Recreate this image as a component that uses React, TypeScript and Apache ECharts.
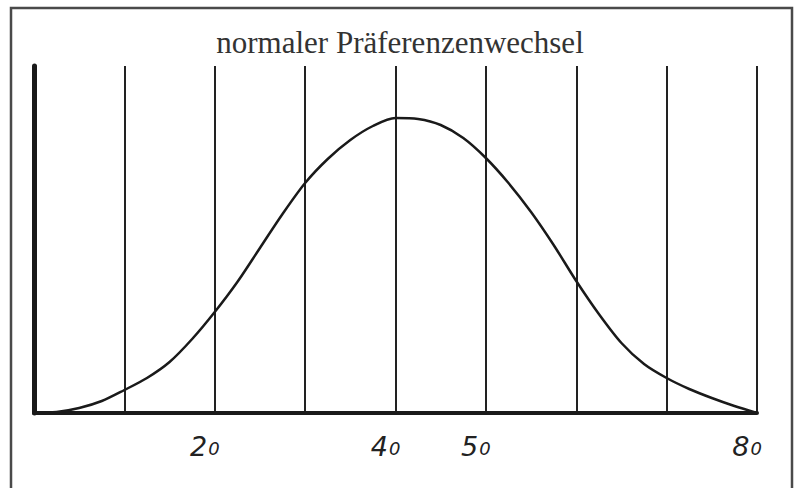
import React, { useEffect, useRef } from "react";
import * as echarts from "echarts";

const titleText = "normaler Präferenzenwechsel";
const xValues = [0, 2.5, 5, 7.5, 10, 12.5, 15, 17.5, 20, 22.5, 25, 27.5, 30, 32.5, 35, 37.5, 40, 42.5, 45, 47.5, 50, 52.5, 55, 57.5, 60, 62.5, 65, 67.5, 70, 72.5, 75, 77.5, 80];
const yValues = [0, 1, 5, 12, 23, 35, 51, 74, 101, 131, 165, 199, 230, 254, 273, 287, 295, 294, 288, 275, 255, 230, 201, 168, 132, 99, 70, 49, 35, 24, 15, 7, 0];
const xLabelValues = [20, 40, 50, 80];
const xMin = 0;
const xMax = 80;
const xInterval = 10;
const yMax = 347;

export default function App() {
  const ref = useRef<HTMLDivElement>(null);
  useEffect(() => {
    if (!ref.current) return;
    const chart = echarts.init(ref.current, null, { renderer: "svg" });
    const data = xValues.map((x, i) => [x, yValues[i]]);
    chart.setOption({
      animation: false,
      backgroundColor: "#ffffff",
      title: {
        text: titleText,
        left: "center",
        top: 22,
        textStyle: {
          fontFamily: "Liberation Serif",
          fontSize: 31,
          fontWeight: "normal",
          color: "#333333",
        },
      },
      graphic: [
        {
          type: "rect",
          shape: { x: 11, y: 8, width: 781, height: 500 },
          style: { fill: "none", stroke: "#4a4a4a", lineWidth: 2.5 },
          silent: true,
        },
      ],
      grid: { left: 34, right: 43, top: 66, bottom: 75 },
      xAxis: {
        type: "value",
        min: xMin,
        max: xMax,
        interval: xInterval,
        axisLine: { show: true, lineStyle: { color: "#1a1a1a", width: 4 } },
        axisTick: { show: false },
        splitLine: { show: true, lineStyle: { color: "#222222", width: 2 } },
        axisLabel: {
          show: true,
          showMinLabel: true,
          showMaxLabel: true,
          margin: 20,
          padding: [0, 20, 0, 0],
          formatter: (v: number) => {
            if (!xLabelValues.includes(v)) return "";
            const s = String(v);
            return `{d|${s.slice(0, 1)}}{o|${s.slice(1)}}`;
          },
          rich: {
            d: {
              fontFamily: "DejaVu Sans",
              fontStyle: "italic",
              fontSize: 27,
              color: "#222222",
              verticalAlign: "bottom",
            },
            o: {
              fontFamily: "DejaVu Sans",
              fontStyle: "italic",
              fontSize: 18,
              color: "#222222",
              verticalAlign: "bottom",
              padding: [0, 0, 3, 1],
            },
          },
        },
      },
      yAxis: {
        type: "value",
        min: 0,
        max: yMax,
        axisLine: { show: true, lineStyle: { color: "#1a1a1a", width: 5 } },
        axisTick: { show: false },
        axisLabel: { show: false },
        splitLine: { show: false },
      },
      series: [
        {
          type: "line",
          data,
          smooth: 0.3,
          symbol: "none",
          lineStyle: { color: "#1a1a1a", width: 2.5 },
        },
      ],
    });
    return () => chart.dispose();
  }, []);
  return (
    <div
      ref={ref}
      style={{ position: "fixed", left: 0, top: 0, width: 800, height: 488, background: "#fff" }}
    />
  );
}
